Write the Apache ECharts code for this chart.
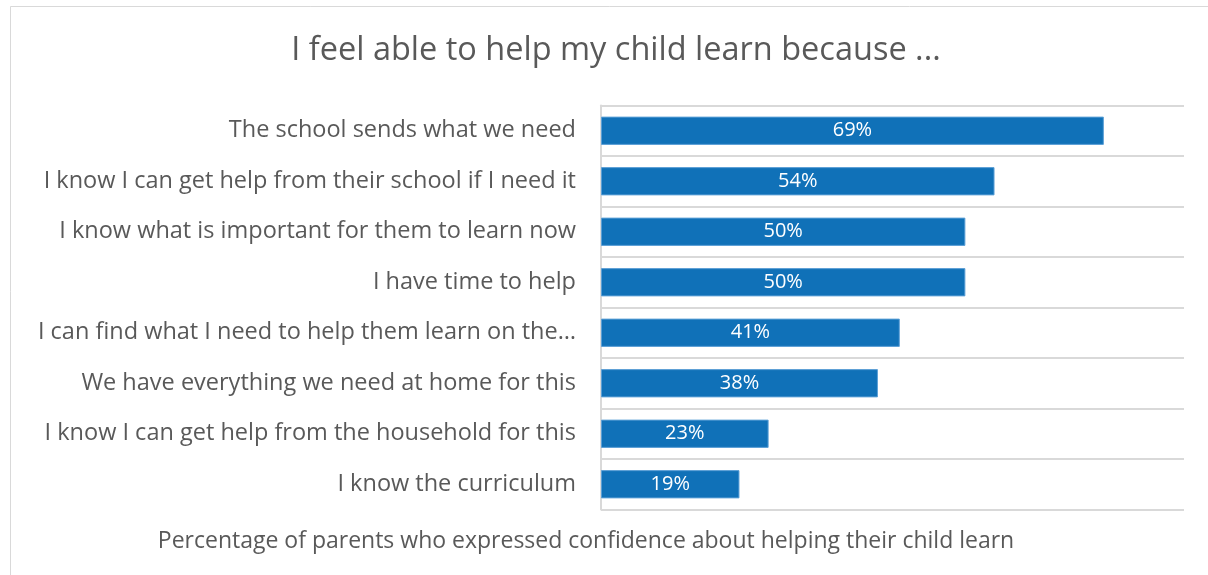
<!DOCTYPE html>
<html>
<head>
<meta charset="utf-8">
<script src="https://cdn.jsdelivr.net/npm/echarts@6/dist/echarts.min.js"></script>
<style>
  html, body { margin: 0; padding: 0; background: #ffffff; }
  #chart { width: 1208px; height: 575px; }
</style>
</head>
<body>
<div id="chart"></div>
<script>
// Reasons parents gave, top to bottom
const categories = [
  'The school sends what we need',
  'I know I can get help from their school if I need it',
  'I know what is important for them to learn now',
  'I have time to help',
  'I can find what I need to help them learn on the\u2026',
  'We have everything we need at home for this',
  'I know I can get help from the household for this',
  'I know the curriculum'
];
// Share of parents (%)
const percentages = [69, 54, 50, 50, 41, 38, 23, 19];

const titleText = 'I feel able to help my child learn because ...';
const footerText = 'Percentage of parents who expressed confidence about helping their child learn';

const FONT = '"Open Sans", sans-serif';
const GREY = '#595959';

const chart = echarts.init(document.getElementById('chart'), null, { renderer: 'canvas' });

chart.setOption({
  backgroundColor: '#ffffff',
  animation: false,
  title: [
    {
      text: titleText,
      left: 611, top: 29, textAlign: 'center',
      textStyle: { fontFamily: FONT, fontSize: 32.5, fontWeight: 'normal', color: GREY }
    },
    {
      text: footerText,
      left: 581, top: 525, textAlign: 'center',
      textStyle: { fontFamily: FONT, fontSize: 23, fontWeight: 'normal', color: GREY }
    }
  ],
  graphic: [
    {
      type: 'rect',
      shape: { x: 10.5, y: 6.5, width: 1300, height: 700 },
      style: { fill: 'none', stroke: '#d9d9d9', lineWidth: 1 },
      silent: true, z: -1
    }
  ],
  grid: { left: 601, right: 24, top: 105.5, bottom: 65.5, containLabel: false },
  xAxis: {
    type: 'value',
    min: 0, max: 80,
    show: false,
    splitLine: { show: false }
  },
  yAxis: {
    type: 'category',
    data: categories,
    inverse: true,
    axisLine: { show: true, lineStyle: { color: '#d9d9d9', width: 2 } },
    axisTick: { show: false },
    splitLine: { show: true, lineStyle: { color: '#d9d9d9', width: 2 } },
    axisLabel: { fontFamily: FONT, fontSize: 23.5, color: GREY, margin: 25 }
  },
  series: [
    {
      type: 'bar',
      data: percentages,
      barCategoryGap: '44%',
      itemStyle: { color: '#1071b8', borderColor: '#5b9fd6', borderWidth: 1 },
      label: {
        show: true,
        position: 'inside',
        formatter: p => p.value + '%',
        fontFamily: FONT, fontSize: 20, color: '#ffffff'
      }
    }
  ]
});
</script>
</body>
</html>
